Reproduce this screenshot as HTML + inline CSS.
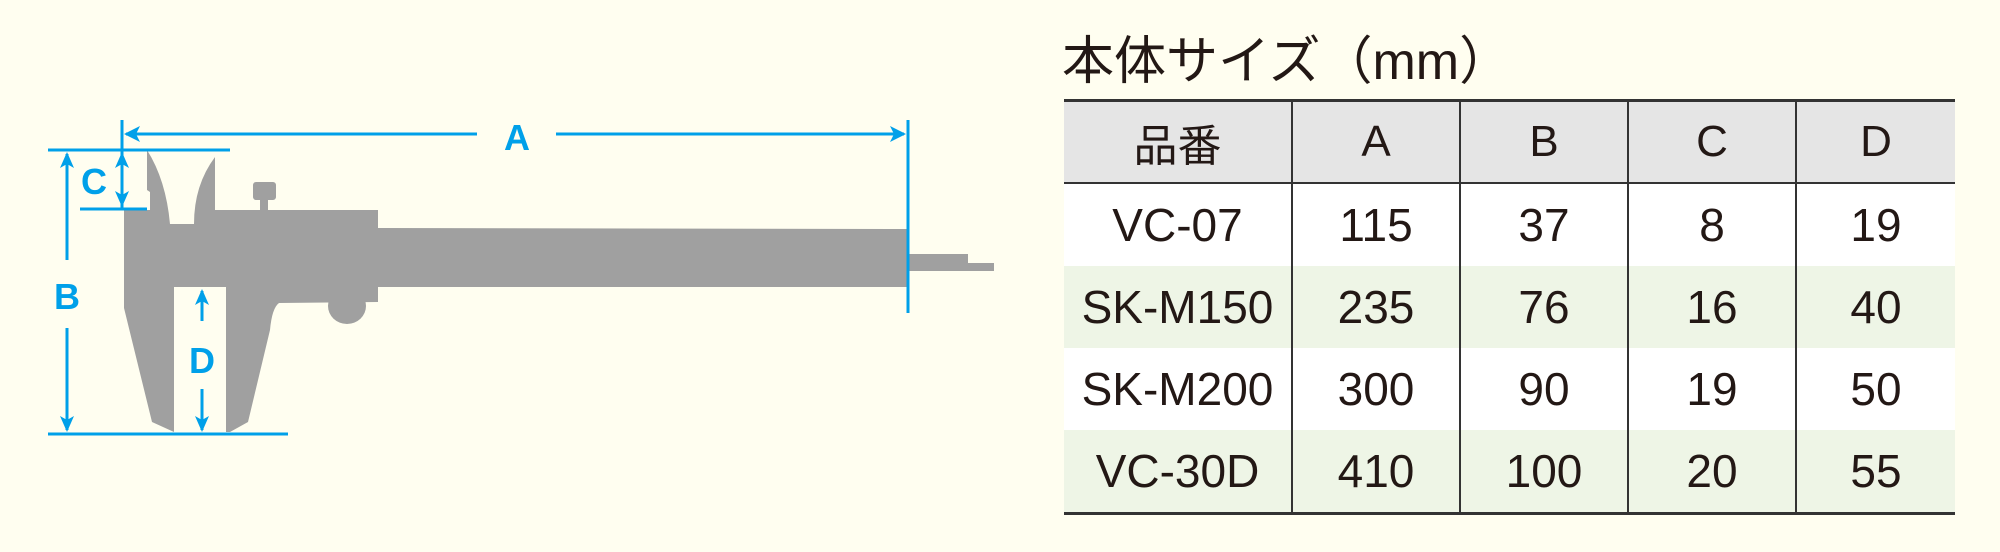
<!DOCTYPE html>
<html><head><meta charset="utf-8"><style>
html,body{margin:0;padding:0;}
body{width:2000px;height:552px;background:#fffef0;position:relative;overflow:hidden;font-family:"Liberation Sans","Noto Sans CJK JP",sans-serif;}
svg{position:absolute;left:0;top:0;}
.title{position:absolute;left:1062px;top:33px;font-size:52px;color:#231815;line-height:58px;white-space:nowrap;}
table{position:absolute;left:1064px;top:99px;width:891px;border-collapse:collapse;border-top:3px solid #333;border-bottom:3px solid #333;}
td{border-left:2px solid #333;text-align:center;font-size:46px;color:#231815;padding:0;}
td:first-child{border-left:none;}
tr.h td{background:#e5e5e5;height:80px;border-bottom:2px solid #333;font-size:44px;}
tr.w td{background:#fff;height:82px;}
tr.g td{background:#eef5e6;height:82px;}
</style></head><body>
<svg width="2000" height="552" viewBox="0 0 2000 552">
<g fill="#a0a0a0">
<path d="M147,150 Q166,180 170,224 L194,224 Q194,185 215,157 L215,210 L378,210 L378,228 L907,229 L907,287 L378,287 L378,302 L279,303 Q272,308 270,330 L248,422 L230,432 L226,432 L226,287 L174,287 L174,432 L152,422 L124,308 L124,210 L150,210 L150,192 L147,190 Z"/>
<ellipse cx="347" cy="306" rx="19" ry="18"/>
<rect x="253" y="182" width="23" height="18" rx="3"/>
<rect x="260" y="199" width="8" height="12"/>
<path d="M907,254 L968,254 L968,263 L994,263 L994,271 L907,271 Z"/>
</g>
<g stroke="#00a0e9" stroke-width="3" fill="none">
<line x1="48" y1="150" x2="230" y2="150"/>
<line x1="80" y1="209" x2="147" y2="209"/>
<line x1="48" y1="434" x2="288" y2="434"/>
<line x1="122" y1="120" x2="122" y2="209"/>
<line x1="908" y1="120" x2="908" y2="313"/>
<line x1="126" y1="134" x2="477" y2="134"/>
<line x1="556" y1="134" x2="904" y2="134"/>
<line x1="67" y1="154" x2="67" y2="260"/>
<line x1="67" y1="328" x2="67" y2="430"/>
<line x1="202" y1="291" x2="202" y2="321"/>
<line x1="202" y1="389" x2="202" y2="430"/>
</g>
<g fill="#00a0e9">
<path d="M124,134 L140,126 L136,134 L140,142 Z"/>
<path d="M906,134 L890,126 L894,134 L890,142 Z"/>
<path d="M122,152 L115,168 L122,164 L129,168 Z"/>
<path d="M122,207 L115,191 L122,195 L129,191 Z"/>
<path d="M67,152 L60,168 L67,164 L74,168 Z"/>
<path d="M67,432 L60,416 L67,420 L74,416 Z"/>
<path d="M202,289 L195,305 L202,301 L209,305 Z"/>
<path d="M202,432 L195,416 L202,420 L209,416 Z"/>
</g>
<g fill="#00a0e9" font-family="Liberation Sans, sans-serif" font-weight="bold" font-size="36" text-anchor="middle">
<text x="517" y="150">A</text>
<text x="94" y="194">C</text>
<text x="67" y="309">B</text>
<text x="202" y="373">D</text>
</g>
</svg>
<div class="title">本体サイズ（mm）</div>
<table>
<tr class="h"><td style="width:227px">品番</td><td style="width:166px">A</td><td style="width:166px">B</td><td style="width:166px">C</td><td>D</td></tr>
<tr class="w"><td>VC-07</td><td>115</td><td>37</td><td>8</td><td>19</td></tr>
<tr class="g"><td>SK-M150</td><td>235</td><td>76</td><td>16</td><td>40</td></tr>
<tr class="w"><td>SK-M200</td><td>300</td><td>90</td><td>19</td><td>50</td></tr>
<tr class="g"><td>VC-30D</td><td>410</td><td>100</td><td>20</td><td>55</td></tr>
</table>
</body></html>
